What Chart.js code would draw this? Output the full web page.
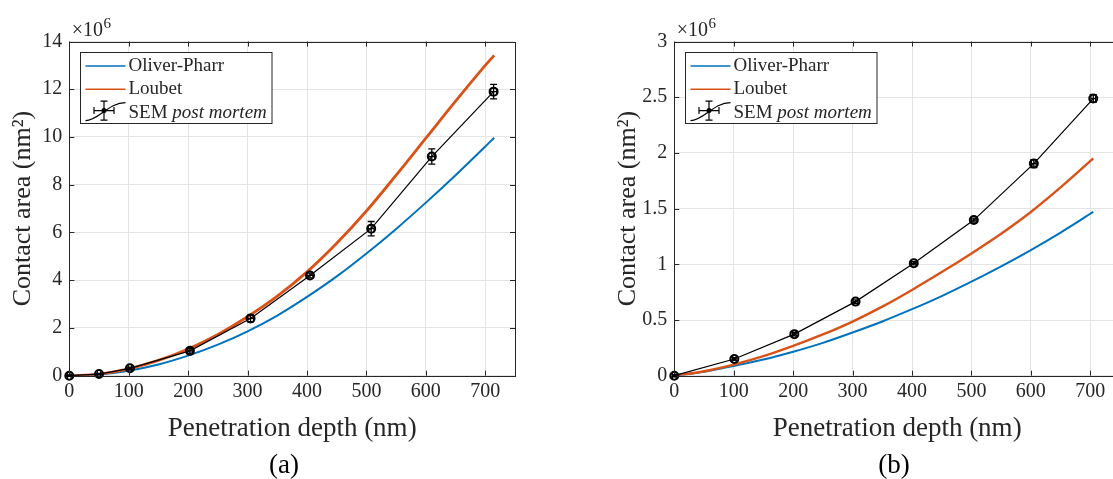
<!DOCTYPE html>
<html>
<head>
<meta charset="utf-8">
<script src="https://cdn.jsdelivr.net/npm/chart.js@4.4.1/dist/chart.umd.min.js"></script>
<style>
    html, body { margin: 0; padding: 0; background: #fff; overflow: hidden; width: 1113px; height: 479px; }
    .panel { position: absolute; top: 0; width: 540px; height: 479px; }
    .caption { position: absolute; top: 449px; width: 80px; text-align: center;
               font-family: "Liberation Serif", "Times New Roman", serif; font-size: 27px; color: #000; }
</style>
</head>
<body>
<div class="panel" style="left:0"><canvas id="chartA" width="540" height="479"></canvas></div>
<div class="panel" style="left:605px"><canvas id="chartB" width="540" height="479"></canvas></div>
<div class="caption" style="left:244px">(a)</div>
<div class="caption" style="left:854px">(b)</div>
<script>
// ---- data (depth in nm, contact area in 10^6 nm^2) ----
const seriesLabels = ['Oliver-Pharr', 'Loubet', 'SEM post mortem'];
const axisTitleX = 'Penetration depth (nm)';
const axisTitleY = 'Contact area (nm²)';
const exponentText = '6';
const depthTicks = [0, 100, 200, 300, 400, 500, 600, 700];

// panel (a)
const depthA = [0, 50, 100, 150, 200, 250, 300, 350, 400, 450, 500, 550, 600, 650, 700, 715];
const oliverPharrA = [0, 0.05, 0.21, 0.47, 0.84, 1.3, 1.86, 2.52, 3.3, 4.16, 5.12, 6.15, 7.25, 8.4, 9.6, 9.97];
const loubetA = [0, 0.07, 0.29, 0.64, 1.12, 1.73, 2.47, 3.33, 4.35, 5.55, 6.9, 8.4, 9.95, 11.5, 13.0, 13.42];
const semDepthA = [0, 50, 102, 203, 305, 405, 508, 610, 714];
const semAreaA = [0, 0.07, 0.31, 1.04, 2.4, 4.2, 6.16, 9.18, 11.9];
const semErrA = [0.03, 0.03, 0.05, 0.1, 0.14, 0.1, 0.3, 0.32, 0.3];
const semDepthErrA = [3, 3, 3, 4, 5, 5, 5, 5, 5];
const areaTicksA = [0, 2, 4, 6, 8, 10, 12, 14];

// panel (b)
const depthB = [0, 50, 100, 150, 200, 250, 300, 350, 400, 450, 500, 550, 600, 650, 705];
const oliverPharrB = [0, 0.035, 0.088, 0.145, 0.215, 0.295, 0.388, 0.487, 0.597, 0.715, 0.844, 0.982, 1.128, 1.285, 1.47];
const loubetB = [0, 0.04, 0.1, 0.175, 0.267, 0.37, 0.486, 0.62, 0.77, 0.93, 1.098, 1.275, 1.47, 1.69, 1.95];
const semDepthB = [0, 101, 202, 305, 403, 504, 605, 705];
const semAreaB = [0, 0.15, 0.373, 0.665, 1.009, 1.397, 1.904, 2.488];
const semErrB = [0.01, 0.012, 0.015, 0.015, 0.015, 0.018, 0.035, 0.035];
const semDepthErrB = [3, 3, 3, 4, 4, 4, 4, 4];
const areaTicksB = [0, 0.5, 1, 1.5, 2, 2.5, 3];

const AXIS_COLOR = '#262626';
const GRID_COLOR = '#e4e4e4';
const FONT = '"Liberation Serif", "Times New Roman", serif';

function toPoints(xs, ys) {
    return xs.map((x, i) => ({ x: x, y: ys[i] }));
}

// box, inward tick marks and the x10^n label, MATLAB style
const matlabBox = {
    id: 'matlabBox',
    afterDatasetsDraw(chart, args, opts) {
        const { ctx, chartArea: a, scales } = chart;
        ctx.save();
        ctx.strokeStyle = AXIS_COLOR;
        ctx.lineWidth = 1;
        ctx.beginPath();
        scales.x.ticks.forEach(t => {
            const px = Math.round(scales.x.getPixelForValue(t.value)) + 0.5;
            ctx.moveTo(px, a.bottom); ctx.lineTo(px, a.bottom - 5);
            ctx.moveTo(px, a.top); ctx.lineTo(px, a.top + 5);
        });
        scales.y.ticks.forEach(t => {
            const py = Math.round(scales.y.getPixelForValue(t.value)) + 0.5;
            ctx.moveTo(a.left, py); ctx.lineTo(a.left + 5, py);
            ctx.moveTo(a.right, py); ctx.lineTo(a.right - 5, py);
        });
        ctx.stroke();
        ctx.strokeRect(Math.round(a.left) + 0.5, Math.round(a.top) + 0.5,
            Math.round(a.right - a.left), Math.round(a.bottom - a.top));

        // exponent label
        ctx.fillStyle = AXIS_COLOR;
        ctx.textBaseline = 'alphabetic';
        ctx.font = '20px ' + FONT;
        ctx.fillText('×10', a.left + 2.5, a.top - 5.5);
        const w = ctx.measureText('×10').width;
        ctx.font = '15px ' + FONT;
        ctx.fillText(opts.exponent, a.left + 3 + w, a.top - 14);
        ctx.restore();
    }
};

// vertical and horizontal error bars with caps
const errorBars = {
    id: 'errorBars',
    afterDatasetsDraw(chart) {
        const { ctx, scales: { x, y } } = chart;
        chart.data.datasets.forEach((ds, i) => {
            if (!ds.yErr) return;
            const meta = chart.getDatasetMeta(i);
            ctx.save();
            ctx.strokeStyle = '#000';
            ctx.lineWidth = 1.3;
            ctx.beginPath();
            meta.data.forEach((pt, j) => {
                const d = ds.data[j];
                const yTop = y.getPixelForValue(d.y + ds.yErr[j]);
                const yBot = y.getPixelForValue(d.y - ds.yErr[j]);
                const xL = x.getPixelForValue(d.x - ds.xErr[j]);
                const xR = x.getPixelForValue(d.x + ds.xErr[j]);
                ctx.moveTo(pt.x, yTop); ctx.lineTo(pt.x, yBot);
                ctx.moveTo(pt.x - 3.5, yTop); ctx.lineTo(pt.x + 3.5, yTop);
                ctx.moveTo(pt.x - 3.5, yBot); ctx.lineTo(pt.x + 3.5, yBot);
                ctx.moveTo(xL, pt.y); ctx.lineTo(xR, pt.y);
                ctx.moveTo(xL, pt.y - 3.5); ctx.lineTo(xL, pt.y + 3.5);
                ctx.moveTo(xR, pt.y - 3.5); ctx.lineTo(xR, pt.y + 3.5);
            });
            ctx.stroke();
            ctx.restore();
        });
    }
};

// legend box inside the axes (top left)
const boxLegend = {
    id: 'boxLegend',
    afterDatasetsDraw(chart) {
        const { ctx, chartArea: a } = chart;
        const x0 = Math.round(a.left + 11) + 0.5, y0 = Math.round(a.top + 10) + 0.5;
        const w = 191.5, h = 71;
        ctx.save();
        ctx.fillStyle = '#fff';
        ctx.fillRect(x0, y0, w, h);
        ctx.strokeStyle = AXIS_COLOR;
        ctx.lineWidth = 1;
        ctx.strokeRect(x0, y0, w, h);
        ctx.textBaseline = 'middle';
        chart.data.datasets.forEach((ds, i) => {
            const cy = y0 + 13.5 + i * 23.3;
            const tx = x0 + 48;
            ctx.strokeStyle = ds.borderColor;
            if (ds.yErr) {
                ctx.lineWidth = 1.2;
                ctx.beginPath();
                ctx.moveTo(x0 + 5, cy + 8);
                ctx.bezierCurveTo(x0 + 18, cy + 8, x0 + 28, cy - 10, x0 + 45, cy - 10);
                const mx = x0 + 23.5, my = cy - 2;
                ctx.moveTo(mx, my - 9.5); ctx.lineTo(mx, my + 9.5);
                ctx.moveTo(mx - 3.5, my - 9.5); ctx.lineTo(mx + 3.5, my - 9.5);
                ctx.moveTo(mx - 3.5, my + 9.5); ctx.lineTo(mx + 3.5, my + 9.5);
                ctx.moveTo(mx - 10, my); ctx.lineTo(mx + 10, my);
                ctx.moveTo(mx - 10, my - 3.5); ctx.lineTo(mx - 10, my + 3.5);
                ctx.moveTo(mx + 10, my - 3.5); ctx.lineTo(mx + 10, my + 3.5);
                ctx.stroke();
                ctx.beginPath();
                ctx.arc(mx, my, 2.5, 0, Math.PI * 2);
                ctx.fillStyle = '#000';
                ctx.fill();
                // first word upright, the rest italic
                const cut = ds.label.indexOf(' ');
                const head = ds.label.slice(0, cut + 1), tail = ds.label.slice(cut + 1);
                ctx.fillStyle = AXIS_COLOR;
                ctx.font = '19px ' + FONT;
                ctx.fillText(head, tx, cy);
                const hw = ctx.measureText(head).width;
                ctx.font = 'italic 19px ' + FONT;
                ctx.fillText(tail, tx + hw, cy);
            } else {
                ctx.lineWidth = 1.5;
                ctx.beginPath();
                ctx.moveTo(x0 + 5, cy); ctx.lineTo(x0 + 45, cy);
                ctx.stroke();
                ctx.fillStyle = AXIS_COLOR;
                ctx.font = '19px ' + FONT;
                ctx.fillText(ds.label, tx, cy);
            }
        });
        ctx.restore();
    }
};

function buildDatasets(depth, op, lb, semDepth, semArea, semErr, semDepthErr, loubetWidth) {
    return [{
        label: seriesLabels[0],
        data: toPoints(depth, op),
        borderColor: '#0072BD',
        borderWidth: 2,
        pointRadius: 0,
        cubicInterpolationMode: 'monotone',
        order: 3
    }, {
        label: seriesLabels[1],
        data: toPoints(depth, lb),
        borderColor: '#D95319',
        borderWidth: loubetWidth,
        pointRadius: 0,
        cubicInterpolationMode: 'monotone',
        order: 2
    }, {
        label: seriesLabels[2],
        data: toPoints(semDepth, semArea),
        yErr: semErr,
        xErr: semDepthErr,
        borderColor: '#000',
        borderWidth: 1.2,
        tension: 0,
        pointRadius: 4,
        pointBorderWidth: 2,
        pointBorderColor: '#000',
        pointBackgroundColor: 'rgba(0,0,0,0)',
        clip: false,
        order: 1
    }];
}

function buildOptions(yMax, yTicks) {
    return {
        responsive: false,
        animation: false,
        devicePixelRatio: 1,
        layout: { padding: { top: 41.5, right: 25, left: 0, bottom: 0 } },
        plugins: {
            legend: { display: false },
            tooltip: { enabled: false },
            matlabBox: { exponent: exponentText }
        },
        scales: {
            x: {
                type: 'linear',
                min: 0,
                max: 750,
                afterBuildTicks: s => { s.ticks = depthTicks.map(v => ({ value: v })); },
                afterFit: s => { s.height = 103.3; },
                grid: { color: GRID_COLOR, drawTicks: false },
                border: { display: false },
                ticks: {
                    padding: 4,
                    maxRotation: 0,
                    color: AXIS_COLOR,
                    font: { family: FONT, size: 20 },
                    callback: v => String(v)
                },
                title: {
                    display: true,
                    text: axisTitleX,
                    color: AXIS_COLOR,
                    font: { family: FONT, size: 27 },
                    padding: { top: 0, bottom: 34 }
                }
            },
            y: {
                type: 'linear',
                min: 0,
                max: yMax,
                afterBuildTicks: s => { s.ticks = yTicks.map(v => ({ value: v })); },
                afterFit: s => { s.width = 69.3; },
                grid: { color: GRID_COLOR, drawTicks: false },
                border: { display: false },
                ticks: {
                    padding: 7,
                    color: AXIS_COLOR,
                    font: { family: FONT, size: 20 },
                    callback: v => String(v)
                },
                title: {
                    display: true,
                    text: axisTitleY,
                    color: AXIS_COLOR,
                    font: { family: FONT, size: 26 },
                    padding: { top: 8, bottom: 0 }
                }
            }
        }
    };
}

new Chart(document.getElementById('chartA').getContext('2d'), {
    type: 'line',
    data: { datasets: buildDatasets(depthA, oliverPharrA, loubetA, semDepthA, semAreaA, semErrA, semDepthErrA, 2.8) },
    options: buildOptions(14, areaTicksA),
    plugins: [matlabBox, errorBars, boxLegend]
});

new Chart(document.getElementById('chartB').getContext('2d'), {
    type: 'line',
    data: { datasets: buildDatasets(depthB, oliverPharrB, loubetB, semDepthB, semAreaB, semErrB, semDepthErrB, 2.4) },
    options: buildOptions(3, areaTicksB),
    plugins: [matlabBox, errorBars, boxLegend]
});
</script>
</body>
</html>
